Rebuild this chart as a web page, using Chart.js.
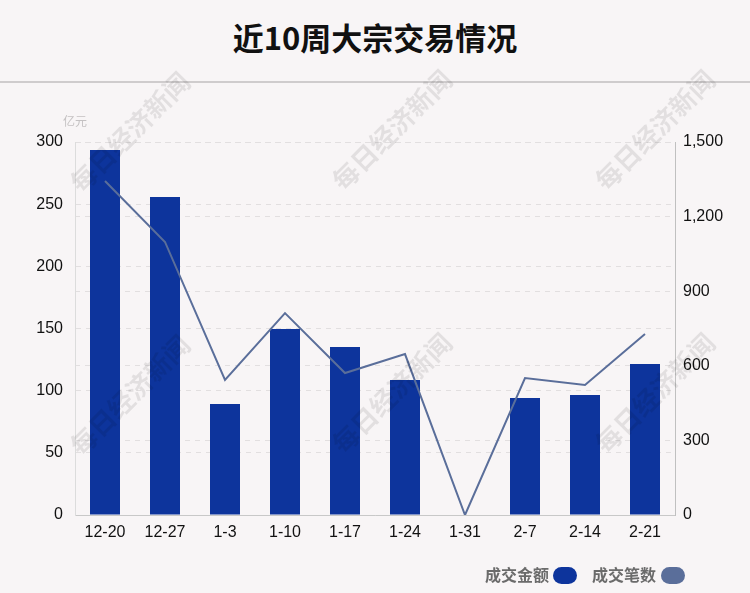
<!DOCTYPE html>
<html>
<head>
<meta charset="utf-8">
<script src="https://cdn.jsdelivr.net/npm/chart.js@4"></script>
<style>
  html, body { margin: 0; padding: 0; background: #f8f5f6; }
  #wrap { position: relative; width: 750px; height: 593px; overflow: hidden; }
  #titulo { position: absolute; left: 0; top: 13px; width: 750px; text-align: center;
    font: bold 31px "Noto Sans CJK SC", sans-serif; color: #111; line-height: 48px; }
  #linea { position: absolute; left: 0; top: 81px; width: 750px; height: 2px; background: #cfcccd; }
  #grafica { position: absolute; left: 0; top: 0; }
  .leyenda { position: absolute; top: 563px; font: bold 16px "Noto Sans CJK SC", sans-serif; color: #6b6b6b; line-height: 22px; }
  .pastilla { position: absolute; width: 24px; height: 17px; border-radius: 9px; }
</style>
</head>
<body>
<div id="wrap">
  <div id="titulo">近10周大宗交易情况</div>
  <div id="linea"></div>
  <canvas id="grafica" width="750" height="593"></canvas>
  <div class="leyenda" style="left:485px">成交金额</div>
  <div class="pastilla" style="left:553px; top:567px; background:#0d349c"></div>
  <div class="leyenda" style="left:592px">成交笔数</div>
  <div class="pastilla" style="left:661px; top:567px; background:#5a6e9a"></div>
</div>
<script>
// Datos
const semanas = ['12-20', '12-27', '1-3', '1-10', '1-17', '1-24', '1-31', '2-7', '2-14', '2-21'];
const montos = [293.6, 255.8, 89.3, 149.6, 135.2, 108.6, 0, 94.1, 96.5, 121.5];   // 亿元
const operaciones = [1343, 1098, 543, 812, 571, 647, 0, 551, 523, 728];          // 笔

const colorBarra = '#0d349c';
const colorLinea = '#5a6e9a';
const fuenteEje = { size: 16, family: '"Liberation Sans", Arial, sans-serif' };

// Marca de agua "每日经济新闻"
const marcaAgua = {
  id: 'marcaAgua',
  afterDraw(chart) {
    const ctx = chart.ctx;
    const centros = [[130, 132], [392, 130], [655, 130], [130, 395], [392, 393], [655, 393]];
    ctx.save();
    ctx.font = 'bold 26px "Noto Sans CJK SC", serif';
    ctx.fillStyle = 'rgba(0,0,0,0.085)';
    ctx.textAlign = 'center';
    ctx.textBaseline = 'middle';
    centros.forEach(c => {
      ctx.save();
      ctx.translate(c[0], c[1]);
      ctx.rotate(-Math.PI / 4);
      ctx.fillText('每日经济新闻', 0, 0);
      ctx.restore();
    });
    // unidad del eje izquierdo
    ctx.font = '12px "Noto Sans CJK SC", sans-serif';
    ctx.fillStyle = '#c4c1c2';
    ctx.textAlign = 'left';
    ctx.fillText('亿元', 63, 121);
    ctx.restore();
  }
};

const ctx = document.getElementById('grafica').getContext('2d');
new Chart(ctx, {
  data: {
    labels: semanas,
    datasets: [
      {
        type: 'line',
        label: '成交笔数',
        data: operaciones,
        yAxisID: 'y1',
        borderColor: colorLinea,
        borderWidth: 2,
        pointRadius: 0,
        tension: 0,
        fill: false,
        order: 0
      },
      {
        type: 'bar',
        label: '成交金额',
        data: montos,
        yAxisID: 'y',
        backgroundColor: colorBarra,
        barPercentage: 0.5,
        categoryPercentage: 1,
        order: 1
      }
    ]
  },
  options: {
    responsive: false,
    animation: false,
    layout: { padding: { top: 142, bottom: 0, left: 0, right: 0 } },
    plugins: {
      legend: { display: false },
      tooltip: { enabled: false }
    },
    scales: {
      x: {
        grid: { display: false },
        border: { color: '#c8c8c8' },
        ticks: { color: '#111', font: fuenteEje, padding: 0 },
        afterFit(scale) { scale.height = 78; }
      },
      y: {
        position: 'left',
        min: 0, max: 300,
        ticks: { stepSize: 50, color: '#111', font: fuenteEje, padding: 12 },
        grid: { color: '#e2dfe0', drawTicks: false },
        border: { color: '#dcdcdc', dash: [5, 5] },
        afterFit(scale) { scale.width = 75; }
      },
      y1: {
        position: 'right',
        min: 0, max: 1500,
        ticks: { stepSize: 300, color: '#111', font: fuenteEje, padding: 8 },
        grid: { color: '#e2dfe0', drawTicks: false },
        border: { color: '#c0c0c0', dash: [5, 5] },
        afterFit(scale) { scale.width = 75; }
      }
    }
  },
  plugins: [marcaAgua]
});
</script>
</body>
</html>
